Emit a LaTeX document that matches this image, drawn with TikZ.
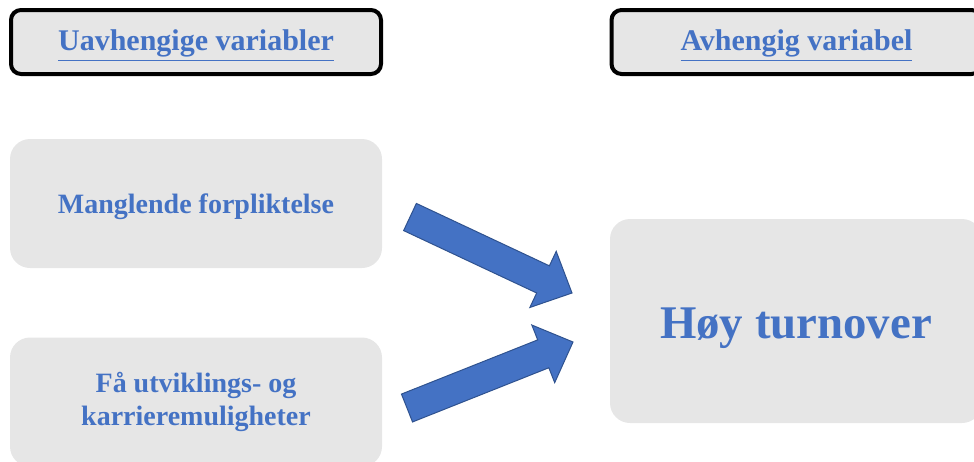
\documentclass[tikz,border=0pt]{standalone}
\usepackage{fontspec}
\setmainfont{Liberation Serif}
\usepackage{tikz}
\usepackage{xcolor}
\usetikzlibrary{calc,positioning}

\definecolor{boxgray}{HTML}{E6E6E6}
\definecolor{txtblue}{HTML}{4472C4}
\definecolor{arrowedge}{HTML}{2F528F}

% thick block arrow from #1 (tail) to #2 (tip)
\newcommand{\blockarrow}[2]{%
	\coordinate (hb) at ($(#2)!16pt!(#1)$);
	\draw[bigarrow] ($(#1)!7.5pt!90:(#2)$) -- ($(hb)!7.5pt!90:(#2)$)
		-- ($(hb)!15.5pt!90:(#2)$) -- (#2) -- ($(hb)!15.5pt!-90:(#2)$)
		-- ($(hb)!7.5pt!-90:(#2)$) -- ($(#1)!7.5pt!-90:(#2)$) -- cycle;
}

\begin{document}
\begin{tikzpicture}[x=0.5pt,y=-0.5pt,
		headbox/.style={draw=black,line width=2pt,fill=boxgray,rounded corners=5pt,
			minimum width=185pt,minimum height=32pt,inner sep=0pt,text height=14pt,
			text=txtblue,font=\bfseries\fontsize{15}{17}\selectfont},
		varbox/.style={fill=boxgray,rounded corners=10pt,minimum width=186pt,
			minimum height=64.5pt,inner sep=0pt,align=center,
			text=txtblue,font=\bfseries\fontsize{14}{16.5}\selectfont},
		bigarrow/.style={fill=txtblue,draw=arrowedge,line width=0.5pt,line join=miter}]
			\useasboundingbox (0,0) rectangle (974,461);
			\clip (0,0) rectangle (974,461);
			
			\node[headbox] (indep) at (196,42) {\underline{Uavhengige variabler}};
			\node[headbox] (dep) at (796.5,42) {\underline{Avhengig variabel}};
			
			\node[varbox,text height=13.5pt] (commit) at (196,203.5) {Manglende forpliktelse};
			\node[varbox] (career) at (196,402) {Få utviklings- og\\karrieremuligheter};
			\node[varbox,minimum height=102pt,text height=23pt,
				font=\bfseries\fontsize{23.4}{27}\selectfont]
				(turnover) at (796,321) {Høy turnover};
			
			\coordinate (up tail) at (410,217);
			\coordinate (up tip) at (572,293);
			\coordinate (low tail) at (407,408);
			\coordinate (low tip) at (573,342);
			
			\blockarrow{up tail}{up tip}
			\blockarrow{low tail}{low tip}
		\end{tikzpicture}
\end{document}
